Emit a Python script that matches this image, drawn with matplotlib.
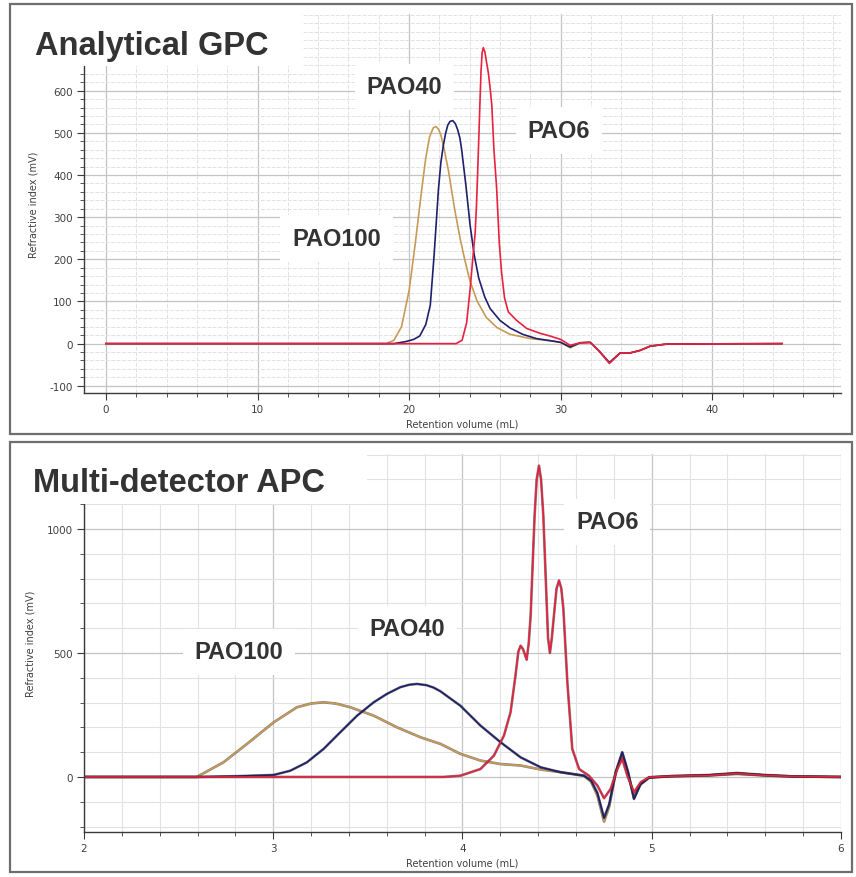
import numpy as np
import matplotlib.pyplot as plt
import matplotlib.patheffects as pe
from matplotlib.patches import Rectangle
from matplotlib.ticker import MultipleLocator

# ---- data ----
# top panel: analytical GPC, retention volume (mL) vs RI (mV)
gpc_pao100_x = [0, 18.5, 19.0, 19.5, 20.0, 20.4, 20.84, 21.1, 21.35, 21.6, 21.78, 21.95, 22.1, 22.35, 22.6,
                23.0, 23.37, 23.7, 24.03, 24.5, 25.1, 25.8, 26.67, 28.0, 29.5, 30.0, 30.63, 31.29, 31.95,
                32.5, 33.22, 33.93, 34.59, 35.25, 35.91, 37.0, 44.6]
gpc_pao100_y = [0, 0, 8, 40, 125, 235, 367, 440, 490, 512, 515, 508, 495, 455, 410,
                320, 249, 195, 147, 100, 62, 38, 22, 12, 6, 3, -10, 2, 3,
                -16, -45, -22, -22, -16, -6, -1, 0]

gpc_pao40_x = [0, 19.0, 19.8, 20.3, 20.7, 21.1, 21.4, 21.65, 21.94, 22.1, 22.26, 22.4, 22.55, 22.7, 22.88,
               23.05, 23.2, 23.35, 23.47, 23.75, 24.03, 24.3, 24.6, 25.0, 25.35, 26.0, 26.67, 27.5, 28.4,
               29.5, 30.0, 30.63, 31.29, 31.95, 32.5, 33.22, 33.93, 34.59, 35.25, 35.91, 37.0, 44.6]
gpc_pao40_y = [0, 0, 5, 10, 18, 45, 91, 209, 367, 430, 470, 497, 518, 527, 529,
               522, 508, 488, 460, 375, 280, 210, 155, 110, 83, 55, 37, 22, 12,
               6, 3, -8, 2, 3, -16, -45, -22, -22, -16, -6, -1, 0]

gpc_pao6_x = [0, 23.1, 23.5, 23.8, 24.03, 24.2, 24.36, 24.45, 24.53, 24.6, 24.68, 24.75, 24.82, 24.9, 25.0,
              25.1, 25.24, 25.35, 25.46, 25.6, 25.78, 25.95, 26.1, 26.3, 26.55, 27.1, 27.76, 28.6, 29.3,
              30.0, 30.63, 31.29, 31.95, 32.5, 33.22, 33.93, 34.59, 35.25, 35.91, 37.0, 44.6]
gpc_pao6_y = [0, 0, 8, 50, 130, 200, 262, 330, 410, 486, 575, 648, 690, 702, 692,
              670, 640, 605, 565, 460, 367, 240, 170, 108, 75, 55, 36, 25, 18,
              10, -4, 2, 3, -16, -47, -22, -22, -16, -6, -1, 0]

# bottom panel: multi-detector APC
apc_pao100_x = [2.0, 2.596, 2.737, 2.861, 3.002, 3.125, 3.2, 3.266, 3.33, 3.407, 3.531, 3.654, 3.778, 3.884,
                3.989, 4.095, 4.201, 4.307, 4.413, 4.519, 4.642, 4.68, 4.713, 4.748, 4.775, 4.81, 4.844,
                4.875, 4.906, 4.94, 4.986, 5.1, 5.3, 5.45, 5.6, 5.75, 6.0]
apc_pao100_y = [0, 0, 59, 133, 220, 281, 296, 301, 296, 281, 247, 200, 160, 133,
                93, 66, 52, 46, 30, 19, 5, -20, -75, -180, -120, 20, 95,
                15, -85, -30, -2, 3, 6, 12, 6, 2, 0]

apc_pao40_x = [2.0, 2.6, 2.8, 3.002, 3.09, 3.178, 3.266, 3.354, 3.443, 3.531, 3.601, 3.672, 3.72, 3.76,
               3.81, 3.848, 3.884, 3.989, 4.095, 4.201, 4.307, 4.413, 4.519, 4.642, 4.68, 4.713, 4.748,
               4.775, 4.81, 4.844, 4.875, 4.906, 4.94, 4.986, 5.1, 5.3, 5.45, 5.6, 5.75, 6.0]
apc_pao40_y = [0, 0, 3, 8, 25, 59, 113, 180, 247, 301, 335, 362, 372, 375,
               370, 360, 345, 287, 207, 140, 79, 39, 19, 5, -15, -65, -165,
               -110, 20, 100, 20, -89, -30, -3, 3, 8, 16, 8, 2, 0]

apc_pao6_x = [2.0, 3.9, 3.989, 4.095, 4.166, 4.219, 4.254, 4.28, 4.295, 4.307, 4.32, 4.339, 4.35, 4.36,
              4.381, 4.392, 4.404, 4.415, 4.427, 4.444, 4.452, 4.462, 4.472, 4.483, 4.497, 4.51, 4.522,
              4.533, 4.554, 4.58, 4.616, 4.668, 4.713, 4.748, 4.783, 4.818, 4.844, 4.871, 4.906, 4.942,
              4.986, 5.1, 5.3, 5.45, 5.6, 5.75, 6.0]
apc_pao6_y = [0, 0, 5, 32, 86, 167, 261, 409, 505, 529, 515, 473, 540, 650,
              1054, 1200, 1255, 1200, 1054, 718, 560, 500, 560, 650, 760, 792, 760,
              677, 382, 113, 32, 5, -35, -86, -48, 32, 73, 5, -62, -21,
              -1, 3, 6, 14, 6, 2, 0]

gpc_labels = ['PAO100', 'PAO40', 'PAO6']
gpc_label_pos = [(15.2, 249), (19.7, 609), (29.9, 505)]
apc_labels = ['PAO100', 'PAO40', 'PAO6']
apc_label_pos = [(2.82, 504), (3.71, 597), (4.765, 1028)]

tan = '#c89a55'
navy = '#1f1f6e'
red = '#e8213f'
txt = '#333333'

plt.rcParams['font.family'] = ['DejaVu Sans']
plt.rcParams['axes.unicode_minus'] = False

fig = plt.figure(figsize=(8.56, 8.78), dpi=100)


def style_axes(ax):
    for s in ['top', 'right']:
        ax.spines[s].set_visible(False)
    for s in ['left', 'bottom']:
        ax.spines[s].set_color('#3a3a3a')
        ax.spines[s].set_linewidth(1.0)
    ax.tick_params(which='major', length=5, width=0.8, color='#3a3a3a', labelsize=7.5,
                   labelcolor='#404040', pad=3)
    ax.tick_params(which='minor', length=3, width=0.6, color='#3a3a3a')
    ax.grid(which='major', color='#c4c4c4', lw=0.9)
    ax.grid(which='minor', color='#e2e2e2', lw=0.7, ls=(0, (4, 1.5)))
    ax.set_axisbelow(True)
    ax.set_ylabel('Refractive index (mV)', fontsize=7, color='#404040', labelpad=8)
    ax.set_xlabel('Retention volume (mL)', fontsize=7, color='#404040', labelpad=3)


# ---- top panel ----
ax1 = fig.add_axes([0.0981, 0.5513, 0.8844, 0.4317])
ax1.plot(gpc_pao100_x, gpc_pao100_y, color=tan, lw=1.2)
ax1.plot(gpc_pao40_x, gpc_pao40_y, color=navy, lw=1.2)
ax1.plot(gpc_pao6_x, gpc_pao6_y, color=red, lw=1.2)
ax1.set_xlim(-1.45, 48.5)
ax1.set_ylim(-117, 782)
ax1.set_yticks([-100, 0, 100, 200, 300, 400, 500, 600])
ax1.set_xticks([0, 10, 20, 30, 40])
ax1.xaxis.set_minor_locator(MultipleLocator(2))
ax1.yaxis.set_minor_locator(MultipleLocator(20))
style_axes(ax1)
for lab, (x, y) in zip(gpc_labels, gpc_label_pos):
    ax1.text(x, y, lab, ha='center', va='center', fontsize=17, fontweight='bold',
             family='Liberation Sans', color=txt,
             bbox=dict(boxstyle='square,pad=0.5', fc='white', ec='none'))

# ---- bottom panel ----
ax2 = fig.add_axes([0.0981, 0.05125, 0.8844, 0.4305])
dark = [pe.Stroke(linewidth=1.9, foreground='#202020', alpha=0.55), pe.Normal()]
ax2.plot(apc_pao100_x, apc_pao100_y, color=tan, lw=1.2, path_effects=dark)
ax2.plot(apc_pao40_x, apc_pao40_y, color=navy, lw=1.2, path_effects=dark)
ax2.plot(apc_pao6_x, apc_pao6_y, color=red, lw=1.2, path_effects=dark)
ax2.set_xlim(2, 6)
ax2.set_ylim(-222, 1302)
ax2.set_yticks([0, 500, 1000])
ax2.set_xticks([2, 3, 4, 5, 6])
ax2.xaxis.set_minor_locator(MultipleLocator(0.2))
ax2.yaxis.set_minor_locator(MultipleLocator(100))
style_axes(ax2)
ax2.grid(which='minor', color='#e2e2e2', lw=0.8, ls='-')
for lab, (x, y) in zip(apc_labels, apc_label_pos):
    ax2.text(x, y, lab, ha='center', va='center', fontsize=17, fontweight='bold',
             family='Liberation Sans', color=txt,
             bbox=dict(boxstyle='square,pad=0.5', fc='white', ec='none'))

# white title boxes and panel frames
fig.patches.append(Rectangle((0.01285, 0.9237), 0.34, 0.0695, transform=fig.transFigure,
                             fc='white', ec='none', zorder=2))
fig.patches.append(Rectangle((0.01285, 0.42483), 0.4159, 0.0683, transform=fig.transFigure,
                             fc='white', ec='none', zorder=2))
fig.text(0.0409, 0.93736, 'Analytical GPC', fontsize=23.5, fontweight='bold',
         family='Liberation Sans', color=txt, va='baseline', zorder=3)
fig.text(0.03855, 0.43964, 'Multi-detector APC', fontsize=23.5, fontweight='bold',
         family='Liberation Sans', color=txt, va='baseline', zorder=3)
for y0 in [0.50456, 0.0057]:
    fig.patches.append(Rectangle((0.01168, y0), 0.98364, 0.48975, transform=fig.transFigure,
                                 fc='none', ec='#6e6e6e', lw=1.6, zorder=4))

plt.savefig('out.png', dpi=100)
